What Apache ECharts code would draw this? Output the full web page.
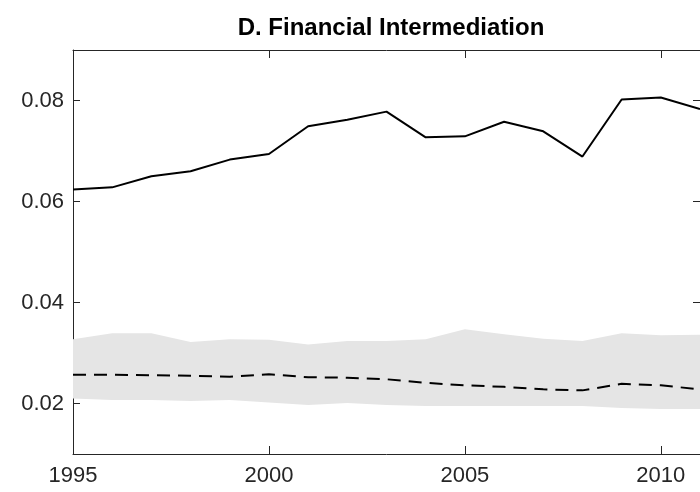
<!DOCTYPE html>
<html>
<head>
<meta charset="utf-8">
<script src="https://cdn.jsdelivr.net/npm/echarts@6/dist/echarts.min.js"></script>
<style>
  html, body { margin: 0; padding: 0; background: #fff; }
  #chart { width: 700px; height: 492px; }
</style>
</head>
<body>
<div id="chart"></div>
<script>
// Years on the horizontal axis
const years = ['1995','1996','1997','1998','1999','2000','2001','2002','2003',
               '2004','2005','2006','2007','2008','2009','2010','2011'];

// Observed financial intermediation measure (solid line)
const observed = [0.0624, 0.0628, 0.0650, 0.0660, 0.0683, 0.0694, 0.0749, 0.0762, 0.0778,
                  0.0727, 0.0729, 0.0758, 0.0739, 0.0689, 0.0802, 0.0806, 0.0783];

// Model benchmark (dashed line)
const benchmark = [0.0257, 0.0257, 0.0256, 0.0255, 0.0253, 0.0258, 0.0252, 0.0251, 0.0248,
                   0.0241, 0.0236, 0.0233, 0.0228, 0.0226, 0.0239, 0.0236, 0.0228];

// Confidence band around the benchmark
const bandLow  = [0.0210, 0.0207, 0.0207, 0.0205, 0.0207, 0.0202, 0.0197, 0.0201, 0.0197,
                  0.0195, 0.0195, 0.0195, 0.0195, 0.0195, 0.0191, 0.0189, 0.0189];
const bandHigh = [0.0327, 0.0339, 0.0339, 0.0322, 0.0327, 0.0326, 0.0317, 0.0324, 0.0324,
                  0.0327, 0.0347, 0.0337, 0.0328, 0.0324, 0.0339, 0.0335, 0.0336];

// Tick values
const yTicks = [0.02, 0.04, 0.06, 0.08];
const yMin = 0.01, yMax = 0.09;

const font = "'Liberation Sans', Arial, Helvetica, sans-serif";
const axisColor = '#262626';

const bandWidth = bandHigh.map((h, i) => +(h - bandLow[i]).toFixed(4));
const everyFifth = (idx, val) => Number(val) % 5 === 0;

const chart = echarts.init(document.getElementById('chart'), null, { renderer: 'canvas' });

const xBase = {
  type: 'category',
  data: years,
  boundaryGap: false,
  axisLine: { show: true, lineStyle: { color: axisColor, width: 1 } },
  axisTick: { show: true, inside: true, length: 8, interval: everyFifth,
              lineStyle: { color: axisColor, width: 1 } },
  splitLine: { show: false }
};
const yBase = {
  type: 'value',
  min: yMin,
  max: yMax,
  axisLine: { show: true, lineStyle: { color: axisColor, width: 1 } },
  axisTick: { show: true, inside: true, length: 7, customValues: yTicks,
              lineStyle: { color: axisColor, width: 1 } },
  splitLine: { show: false }
};

chart.setOption({
  animation: false,
  backgroundColor: '#ffffff',
  title: {
    text: 'D. Financial Intermediation',
    left: 386,
    textAlign: 'center',
    top: 11,
    textStyle: { fontFamily: font, fontWeight: 'bold', fontSize: 24, color: '#000' }
  },
  grid: { left: 73, top: 50, right: -3, bottom: 38, containLabel: false },
  xAxis: [
    Object.assign({}, xBase, {
      position: 'bottom',
      axisLabel: { show: true, interval: everyFifth, margin: 11,
                   fontFamily: font, fontSize: 22, color: axisColor }
    }),
    Object.assign({}, xBase, {
      position: 'top',
      axisLabel: { show: false }
    })
  ],
  yAxis: [
    Object.assign({}, yBase, {
      position: 'left',
      axisLabel: { show: true, customValues: yTicks, margin: 9,
                   fontFamily: font, fontSize: 22, color: axisColor,
                   formatter: v => v.toFixed(2) }
    }),
    Object.assign({}, yBase, {
      position: 'right',
      axisLabel: { show: false }
    })
  ],
  series: [
    {
      name: 'band-base',
      type: 'line',
      stack: 'band',
      data: bandLow,
      symbol: 'none',
      lineStyle: { opacity: 0 },
      areaStyle: { opacity: 0 },
      silent: true,
      z: 1
    },
    {
      name: 'band',
      type: 'line',
      stack: 'band',
      data: bandWidth,
      symbol: 'none',
      lineStyle: { opacity: 0 },
      areaStyle: { color: '#e5e5e5', opacity: 1 },
      silent: true,
      z: 1
    },
    {
      name: 'benchmark',
      type: 'line',
      data: benchmark,
      symbol: 'none',
      lineStyle: { color: '#000', width: 2, type: [13, 8] },
      z: 3
    },
    {
      name: 'observed',
      type: 'line',
      data: observed,
      symbol: 'none',
      lineStyle: { color: '#000', width: 2 },
      z: 3
    }
  ]
});
</script>
</body>
</html>
